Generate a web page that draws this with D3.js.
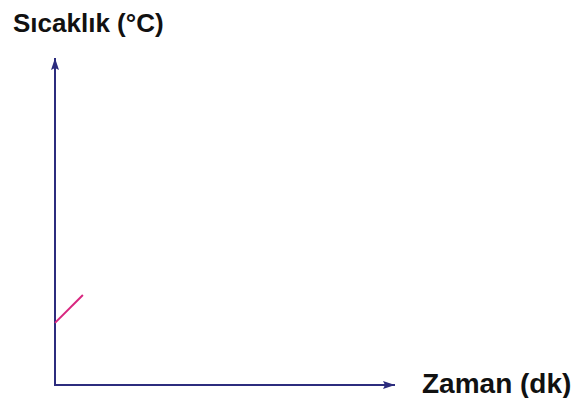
<!DOCTYPE html>
<html>
<head>
<meta charset="utf-8">
<script src="https://cdn.jsdelivr.net/npm/d3@7"></script>
<style>
  html, body { margin: 0; padding: 0; background: #fff; }
  svg { display: block; }
  .axisTitle { font-family: "Liberation Sans", Arial, sans-serif; font-weight: bold; fill: #111; }
</style>
</head>
<body>
<svg width="586" height="398"></svg>
<script>
'use strict';

// heating segment (time in min, temperature)
var timeValues = [0, 0.82];
var tempValues = [1.9, 2.75];
var xLabel = 'Zaman (dk)';
var yLabel = 'Sıcaklık (°C)';

var svg = d3.select('svg');

var x = d3.scaleLinear().domain([0, 10]).range([55, 395]);
var y = d3.scaleLinear().domain([0, 10]).range([385, 58]);

var axisColor = '#2c2c7e';

// arrow heads
var defs = svg.append('defs');
defs.append('marker')
    .attr('id', 'arrowHead')
    .attr('viewBox', '0 0 12 8')
    .attr('refX', 12)
    .attr('refY', 4)
    .attr('markerWidth', 12)
    .attr('markerHeight', 8)
    .attr('markerUnits', 'userSpaceOnUse')
    .attr('orient', 'auto')
    .append('path')
    .attr('d', 'M0,0 L12,4 L0,8 L2,4 Z')
    .attr('fill', axisColor);

// x axis
svg.append('line')
    .attr('x1', x(0)).attr('y1', y(0))
    .attr('x2', x(10)).attr('y2', y(0))
    .attr('stroke', axisColor)
    .attr('stroke-width', 2)
    .attr('marker-end', 'url(#arrowHead)');

// y axis
svg.append('line')
    .attr('x1', x(0)).attr('y1', y(0) + 1)
    .attr('x2', x(0)).attr('y2', y(10))
    .attr('stroke', axisColor)
    .attr('stroke-width', 2)
    .attr('marker-end', 'url(#arrowHead)');

// the data line
var points = timeValues.map(function (t, i) {
    return [t, tempValues[i]];
});

svg.append('path')
    .datum(points)
    .attr('fill', 'none')
    .attr('stroke', '#d8267f')
    .attr('stroke-width', 2)
    .attr('d', d3.line()
        .x(function (d) { return x(d[0]); })
        .y(function (d) { return y(d[1]); }));

svg.append('text')
    .attr('class', 'axisTitle')
    .attr('x', 13)
    .attr('y', 32)
    .style('font-size', '26px')
    .text(yLabel);

svg.append('text')
    .attr('class', 'axisTitle')
    .attr('x', 422)
    .attr('y', 393)
    .style('font-size', '28px')
    .text(xLabel);
</script>
</body>
</html>
